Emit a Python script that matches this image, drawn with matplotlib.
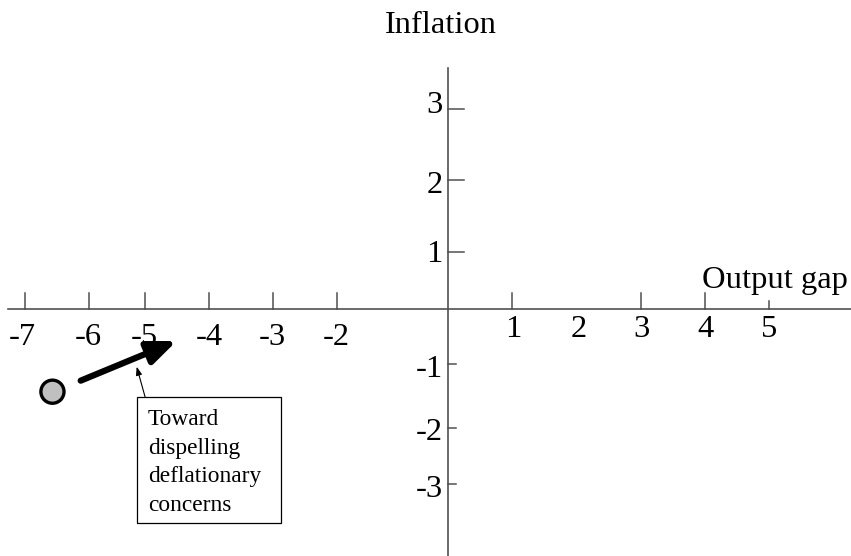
import matplotlib
matplotlib.use("Agg")
import matplotlib.pyplot as plt
from matplotlib.patches import Circle, Rectangle

plt.rcParams['font.family'] = ['Liberation Serif', 'DejaVu Serif']

# x axis: labels and where they sit (it is not evenly spaced)
x_labels = ["-7", "-6", "-5", "-4", "-3", "-2", "1", "2", "3", "4", "5"]
x_label_pos = [-6.64, -5.61, -4.74, -3.73, -2.74, -1.75, 1.02, 2.03, 3.01, 4.01, 5.0]
x_tick_pos = [-6.59, -5.60, -4.73, -3.73, -2.73, -1.73, 1.0, 3.0, 4.0]
x_short_tick_pos = [5.0]

# y axis
y_labels = ["3", "2", "1", "-1", "-2", "-3"]
y_tick_pos = [3.115, 2.0, 0.878]
y_short_tick_pos = [-0.866, -1.858, -2.73]
y_label_base = [3.044, 1.798, 0.732, -1.059, -2.045, -2.928]

# the current point and where it is heading
point = (-6.166, -1.293)
move_from = (-5.726, -1.121)
move_to = (-4.231, -0.503)

note = "Toward\ndispelling\ndeflationary\nconcerns"

def main():
    fig = plt.figure(figsize=(8.51, 5.56), dpi=100)
    ax = fig.add_axes([0, 0, 1, 1])
    ax.set_xlim(-6.983, 6.273)
    ax.set_ylim(-3.852, 4.808)
    ax.axis("off")

    lc = "#505050"
    ax.plot([-6.858, 6.273], [0, 0], color=lc, lw=1.2)
    ax.plot([0, 0], [-3.852, 3.745], color=lc, lw=1.2)

    for x in x_tick_pos:
        ax.plot([x, x], [0, 0.25], color=lc, lw=1.1)
    for x in x_short_tick_pos:
        ax.plot([x, x], [0, 0.125], color=lc, lw=1.1)
    for y in y_tick_pos:
        ax.plot([0, 0.25], [y, y], color=lc, lw=1.1)
    for y in y_short_tick_pos:
        ax.plot([0, 0.125], [y, y], color=lc, lw=1.1)

    big = 23.4
    for lab, x in zip(x_labels, x_label_pos):
        base = -0.565 if lab.startswith("-") else -0.436
        ax.text(x, base, lab, ha="center", va="baseline", fontsize=big)
    for lab, y in zip(y_labels, y_label_base):
        ax.text(-0.087, y, lab, ha="right", va="baseline", fontsize=big)

    ax.text(-0.115, 4.294, "Inflation", ha="center", va="baseline", fontsize=big)
    ax.text(3.947, 0.318, "Output gap", ha="left", va="baseline", fontsize=big)

    ax.add_patch(Circle(point, 0.18, facecolor="#c0c0c0", edgecolor="black", lw=2.4, zorder=3))
    ax.annotate("", xy=move_to, xytext=move_from,
                arrowprops=dict(arrowstyle="-|>,head_length=1.7,head_width=0.7",
                                lw=4.5, color="black", shrinkA=0, shrinkB=0))

    # callout box
    ax.add_patch(Rectangle((-4.854, -3.338), 2.248, 1.967, facecolor="white",
                           edgecolor="black", lw=0.9))
    ax.annotate("", xy=(-4.854, -0.903), xytext=(-4.724, -1.371),
                arrowprops=dict(arrowstyle="-|>,head_length=0.5,head_width=0.18",
                                lw=0.8, color="black", shrinkA=0, shrinkB=0))
    ax.text(-4.677, -1.56, note, ha="left", va="top", fontsize=16.8, linespacing=1.48)

    fig.savefig("out.png", dpi=100)

if __name__ == "__main__":
    main()
